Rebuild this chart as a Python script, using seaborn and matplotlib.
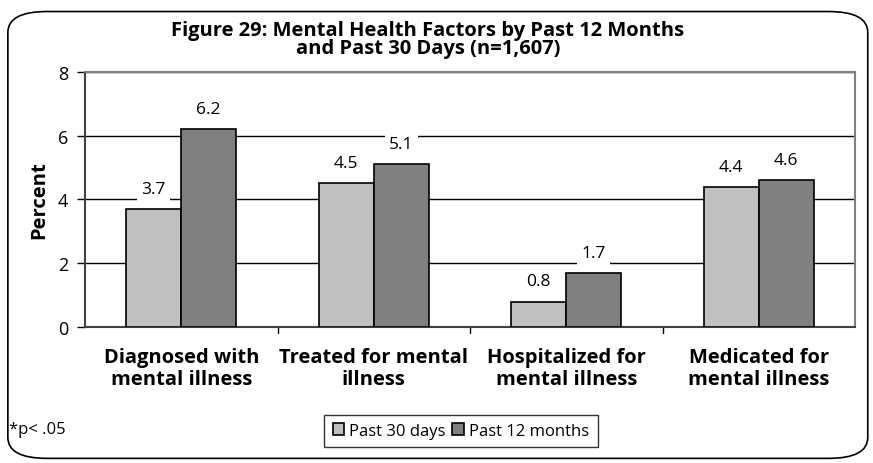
import pandas as pd
import matplotlib.pyplot as plt
import seaborn as sns
from matplotlib.patches import FancyBboxPatch

categories = ["Diagnosed with\nmental illness", "Treated for mental\nillness",
              "Hospitalized for\nmental illness", "Medicated for\nmental illness"]
past_30_days = [3.7, 4.5, 0.8, 4.4]
past_12_months = [6.2, 5.1, 1.7, 4.6]
series = ["Past 30 days", "Past 12 months"]
colors = ["#c0c0c0", "#808080"]

df = pd.DataFrame({
    "category": categories * 2,
    "series": [series[0]] * 4 + [series[1]] * 4,
    "value": past_30_days + past_12_months,
})

sns.set_style("white")
plt.rcParams['font.family'] = ['Open Sans', 'DejaVu Sans']
plt.rcParams['text.color'] = 'black'
plt.rcParams['axes.labelcolor'] = 'black'
plt.rcParams['xtick.color'] = 'black'
plt.rcParams['ytick.color'] = 'black'

fig = plt.figure(figsize=(8.73, 4.64), dpi=100)
ax = fig.add_axes([0.0974, 0.293, 0.882, 0.55])

sns.barplot(data=df, x="category", y="value", hue="series", palette=colors,
            width=0.57, edgecolor="black", linewidth=1.2, ax=ax, legend=True,
            zorder=3)

ax.set_ylim(0, 8)
ax.set_yticks([0, 2, 4, 6, 8])
ax.set_xlim(-0.5, 3.5)
ax.yaxis.grid(True, color="black", linewidth=1)
ax.set_axisbelow(True)
for s in ["top", "right"]:
    ax.spines[s].set_color("#808080")
    ax.spines[s].set_linewidth(1.5)
ax.spines["left"].set_color("#404040")
ax.spines["bottom"].set_color("#404040")
ax.spines["left"].set_linewidth(1.5)
ax.spines["bottom"].set_linewidth(1.5)

ax.tick_params(axis="y", left=True, length=6, width=1, labelsize=13, pad=6)
ax.set_xticks([0, 1, 2, 3])
ax.set_xticklabels(categories, fontsize=14.5, fontweight="bold",
                   linespacing=1.15)
ax.tick_params(axis="x", bottom=False, pad=11)
for b in [0.5, 1.5, 2.5]:
    ax.plot([b, b], [0, -0.18], color="black", lw=1, clip_on=False)

ax.set_xlabel("")
ax.set_ylabel("Percent", fontsize=14.5, fontweight="bold", labelpad=6)

for cont in ax.containers:
    for bar in cont:
        h = bar.get_height()
        ax.annotate(f"{h:.1f}", (bar.get_x() + bar.get_width() / 2, h),
                    xytext=(0, 14.5), textcoords="offset points",
                    ha="center", va="center", fontsize=12.5, zorder=5,
                    bbox=dict(boxstyle="square,pad=0.25", fc="white", ec="none"))

leg = ax.legend(loc="center", bbox_to_anchor=(0.528, 0.069),
                bbox_transform=fig.transFigure, ncol=2, frameon=True,
                fancybox=False, edgecolor="black",
                handlelength=0.7, handleheight=0.7, handletextpad=0.3,
                columnspacing=0.4, borderpad=0.5,
                prop={'size': 12})
leg.get_frame().set_linewidth(1)

fig.text(0.49, 0.955, "Figure 29: Mental Health Factors by Past 12 Months\nand Past 30 Days (n=1,607)",
         ha="center", va="top", fontsize=14.5, fontweight="bold",
         linespacing=0.85)
fig.text(0.01, 0.073, "*p< .05", ha="left", va="center", fontsize=12)

border = FancyBboxPatch((0.009, 0.01), 0.985, 0.963,
                        boxstyle="round,pad=0,rounding_size=0.045",
                        transform=fig.transFigure, fill=False,
                        edgecolor="black", linewidth=1.2)
fig.patches.append(border)

fig.savefig("out.png", dpi=100)
